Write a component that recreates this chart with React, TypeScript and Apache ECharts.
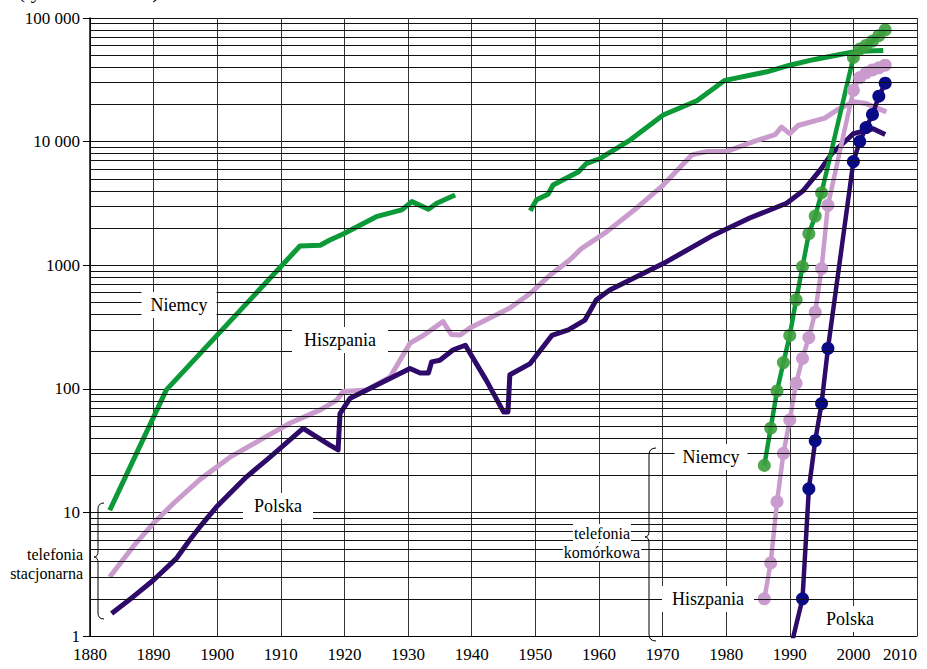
import React, { useEffect, useRef } from "react";
import * as echarts from "echarts";

// ---------- data (thousands of subscribers) ----------
const niemcyStacjonarnaA: [number, number][] = [
  [1883.1, 10.4], [1892, 98], [1913, 1430], [1916.2, 1450], [1917.7, 1600], [1919.8, 1790],
  [1925, 2470], [1929, 2800], [1930.6, 3270], [1933.2, 2840], [1934.5, 3170], [1937.4, 3700],
];
const niemcyStacjonarnaB: [number, number][] = [
  [1949.2, 2760], [1950.2, 3380], [1952, 3750], [1952.8, 4450], [1956.8, 5700], [1958, 6630],
  [1960.2, 7300], [1964.9, 10300], [1970.1, 16400], [1975.4, 21400], [1979.8, 31300],
  [1986.4, 36700], [1990, 41500], [1993.7, 46000], [1997.9, 50600], [2000, 53000],
  [2002, 54000], [2004.7, 54500],
];
const hiszpaniaStacjonarna: [number, number][] = [
  [1883.1, 3.0], [1886.8, 5.3], [1890, 8.2], [1893.1, 11.8], [1897.3, 18.5], [1902, 28],
  [1907.2, 39.7], [1911.4, 52.6], [1916.2, 67.5], [1918.8, 81], [1919.8, 95], [1923.5, 98],
  [1927.2, 125], [1930.3, 234], [1932.4, 270], [1935.5, 350], [1936.8, 275], [1938.2, 272],
  [1939.7, 310], [1946, 450], [1949.2, 590], [1952.3, 830], [1955.4, 1100], [1957.3, 1370],
  [1961.2, 1860], [1965.9, 2890], [1970.1, 4450], [1974.6, 7800], [1976.9, 8300], [1980, 8300],
  [1984.3, 10000], [1987.7, 11400], [1988.7, 13100], [1990, 11600], [1991.3, 13500],
  [1995.5, 15500], [1997.4, 18000], [2000, 21000], [2002, 20300], [2005.2, 17400],
];
const polskaStacjonarna: [number, number][] = [
  [1883.4, 1.52], [1886.8, 2.08], [1890, 2.84], [1893.6, 4.25], [1895.7, 6.0], [1897.3, 7.66],
  [1899.9, 11.1], [1904.6, 19.4], [1908.3, 28], [1913.5, 47.9], [1917.7, 35], [1919, 32],
  [1919.3, 63], [1920.9, 84], [1927.7, 125], [1930.3, 146], [1931.9, 134], [1933.2, 134],
  [1933.7, 165], [1935, 170], [1937.1, 207], [1939, 225], [1942.3, 117], [1945, 65],
  [1945.7, 65], [1946, 130], [1949.2, 160], [1952.6, 270], [1955.2, 300], [1957.8, 360],
  [1959.6, 525], [1961.7, 630], [1970.1, 1030], [1978, 1750], [1983.7, 2410], [1989.5, 3170],
  [1992.1, 4000], [1994.8, 5900], [1996.6, 8000], [1999.2, 10600], [2000, 11600],
  [2003.1, 12700], [2005, 11400],
];
const niemcyKomorkowa: [number, number][] = [
  [1986, 24], [1987, 48], [1988, 96], [1989, 163], [1990, 270], [1991, 525], [1992, 975],
  [1993, 1800], [1994, 2500], [1995, 3850], [2000, 48000], [2001, 56000], [2002, 60000],
  [2003, 65000], [2004, 72000], [2005, 80000],
];
const hiszpaniaKomorkowa: [number, number][] = [
  [1986, 2.0], [1987, 3.9], [1988, 12.2], [1989, 30], [1990, 56], [1991, 111], [1992, 176],
  [1993, 260], [1994, 417], [1995, 940], [1996, 3050], [2000, 26000], [2001, 33000],
  [2002, 36000], [2003, 38000], [2004, 39500], [2005, 41500],
];
const polskaKomorkowa: [number, number][] = [
  [1990, 0.75], [1992, 2.0], [1993, 15.5], [1994, 38], [1995, 76], [1996, 212], [2000, 6900],
  [2001, 10000], [2002, 13000], [2003, 16600], [2004, 23300], [2005, 29700],
];
const yTickLabels: Record<number, string> = {
  1: "1", 10: "10", 100: "100", 1000: "1000", 10000: "10 000", 100000: "100 000",
};
const minorGrid: number[] = [];
for (let e = 0; e < 5; e++) for (let k = 2; k <= 9; k++) minorGrid.push(k * Math.pow(10, e));

// ---------- shapes ----------
echarts.graphic.registerShape(
  "braceLeft",
  echarts.graphic.extendPath(
    "M104,503 Q98,503 98,509 L98,551 Q98,557 94,557 Q98,557 98,563 L98,613 Q98,619 104,619",
    {}
  )
);
echarts.graphic.registerShape(
  "braceMobile",
  echarts.graphic.extendPath(
    "M656,448 Q649,448 649,455 L649,531 Q649,537 645,537 Q649,537 649,543 L649,634 Q649,641 656,641",
    {}
  )
);

const GREEN = "#0c9a38";
const GREEN_M = "#3c9e3c";
const PINK = "#c99ccd";
const PURPLE = "#2e0a6a";
const NAVY = "#0a0a86";
const SERIF = "Liberation Serif, Times New Roman, serif";

function boxLabel(text: string, x: number, y: number, size: number, padH: number, padV = 4) {
  return {
    type: "text",
    x,
    y,
    z: 20,
    style: {
      text,
      fontFamily: SERIF,
      fontSize: size,
      fill: "#000",
      align: "center",
      verticalAlign: "middle",
      backgroundColor: "#fff",
      padding: [padV, padH, padV, padH],
    },
  };
}

function plainText(text: string, x: number, y: number, size: number, align: string) {
  return {
    type: "text",
    x,
    y,
    z: 20,
    style: { text, fontFamily: SERIF, fontSize: size, fill: "#000", align, verticalAlign: "middle" },
  };
}

export default function App() {
  const ref = useRef<HTMLDivElement>(null);
  useEffect(() => {
    if (!ref.current) return;
    const chart = echarts.init(ref.current, undefined, { renderer: "svg" });
    const fixedLine = (name: string, data: [number, number][], color: string, width = 5) => ({
      type: "line",
      name,
      data,
      symbol: "none",
      z: 3,
      lineStyle: { color, width, join: "round" },
      itemStyle: { color },
    });
    const mobileLine = (name: string, data: any[], lineColor: string, markColor: string, opacity = 1) => ({
      type: "line",
      name,
      data,
      symbol: "circle",
      symbolSize: 13,
      showAllSymbol: true,
      z: 4,
      lineStyle: { color: lineColor, width: 4.5, join: "round" },
      itemStyle: { color: markColor, opacity },
    });
    chart.setOption({
      animation: false,
      textStyle: { fontFamily: SERIF },
      grid: { left: 90, right: 10, top: 18, bottom: 33 },
      xAxis: {
        type: "value",
        min: 1880,
        max: 2010,
        interval: 10,
        axisLine: { lineStyle: { color: "#000", width: 1 } },
        axisTick: { show: false },
        axisLabel: {
          color: "#000",
          fontFamily: SERIF,
          fontSize: 17,
          margin: 10,
          alignMaxLabel: "right",
          formatter: (v: number) => String(v),
        },
        splitLine: { show: true, lineStyle: { color: "#333", width: 1 } },
      },
      yAxis: {
        type: "log",
        logBase: 10,
        min: 1,
        max: 100000,
        splitNumber: 5,
        axisLine: { show: true, lineStyle: { color: "#000", width: 1.5 } },
        axisTick: { show: true, length: 7, lineStyle: { color: "#000" } },
        axisLabel: {
          color: "#000",
          fontFamily: SERIF,
          fontSize: 17,
          margin: 10,
          formatter: (v: number) => yTickLabels[Math.round(v)] ?? String(v),
        },
        splitLine: { show: true, lineStyle: { color: "#111", width: 1 } },
      },
      series: [
        {
          type: "line",
          name: "grid",
          data: [[1880, 1]],
          symbol: "none",
          silent: true,
          z: 1,
          lineStyle: { width: 0 },
          markLine: {
            silent: true,
            symbol: ["none", "none"],
            label: { show: false },
            animation: false,
            lineStyle: { color: "#111", width: 1, type: "solid" },
            emphasis: { disabled: true },
            data: minorGrid.map((v) => ({ yAxis: v })),
          },
        },
        fixedLine("Niemcy stacjonarna A", niemcyStacjonarnaA, GREEN),
        fixedLine("Niemcy stacjonarna B", niemcyStacjonarnaB, GREEN),
        fixedLine("Hiszpania stacjonarna", hiszpaniaStacjonarna, PINK),
        fixedLine("Polska stacjonarna", polskaStacjonarna, PURPLE),
        mobileLine("Niemcy komórkowa", niemcyKomorkowa, GREEN, GREEN_M, 0.9),
        mobileLine("Hiszpania komórkowa", hiszpaniaKomorkowa, PINK, PINK),
        mobileLine(
          "Polska komórkowa",
          polskaKomorkowa.map((p, i) => (i === 0 ? { value: p, symbol: "none" } : p)),
          PURPLE,
          NAVY
        ),
      ],
      graphic: [
        plainText("(tys. abonentów)", 18, -9, 21, "left"),
        boxLabel("Niemcy", 179, 305, 18, 9),
        boxLabel("Hiszpania", 340, 340, 18, 12),
        boxLabel("Polska", 278, 506, 18, 11),
        boxLabel("Niemcy", 711, 457, 18, 8),
        boxLabel("Hiszpania", 708, 599, 18, 10),
        boxLabel("Polska", 850, 619, 18, 4),
        boxLabel("telefonia", 602, 533, 16, 1, 1),
        boxLabel("komórkowa", 602, 552, 16, 1, 1),
        plainText("telefonia", 83, 554, 16, "right"),
        plainText("stacjonarna", 83, 573, 16, "right"),
        { type: "braceLeft", x: 0, y: 0, z: 20, style: { stroke: "#000", fill: "none", lineWidth: 1 } },
        { type: "braceMobile", x: 0, y: 0, z: 20, style: { stroke: "#000", fill: "none", lineWidth: 1 } },
      ],
    });
    return () => chart.dispose();
  }, []);
  return (
    <div
      ref={ref}
      style={{ position: "fixed", left: 0, top: 0, width: 927, height: 669, background: "#fff" }}
    />
  );
}
